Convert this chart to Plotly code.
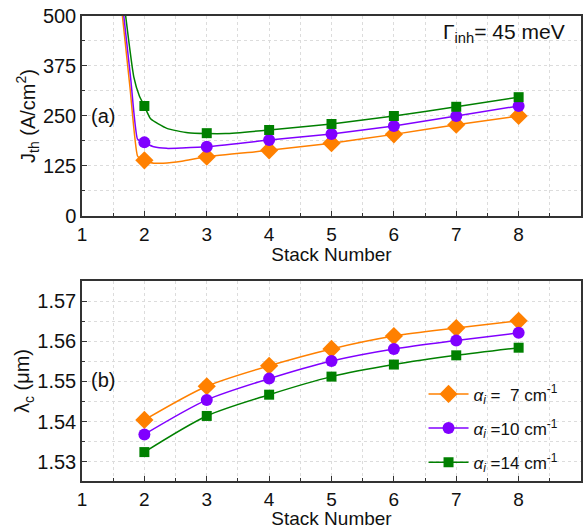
import plotly.graph_objects as go
from plotly.subplots import make_subplots

# ---- data ----
stack = [2, 3, 4, 5, 6, 7, 8]

# panel (a): threshold current density markers (A/cm^2)
jth_7 = [139, 148, 164, 182, 204, 228, 250]
jth_10 = [184, 173, 190, 205, 225, 250, 275]
jth_14 = [275, 207, 215, 230, 250, 273, 297]

# panel (a): model curves
fit7_x = [1.648, 1.77, 1.89, 1.95, 2.0, 2.15, 2.3, 2.6, 3, 4, 5, 6, 7, 8]
fit7_y = [500, 320, 150, 141, 138, 132, 132, 137, 148, 164, 182, 204, 228, 250]
fit10_x = [1.67, 1.78, 1.89, 1.95, 2.0, 2.15, 2.36, 2.6, 3, 4, 5, 6, 7, 8]
fit10_y = [500, 345, 192, 186, 183, 173, 169, 170, 173, 190, 205, 225, 250, 275]
fit14_x = [1.70, 1.83, 1.92, 2.0, 2.1, 2.36, 2.7, 3.0, 3.3, 4, 5, 6, 7, 8]
fit14_y = [500, 348, 300, 275, 243, 219, 208, 206, 206, 215, 230, 250, 273, 297]

# panel (b): lasing wavelength (um)
lam_7 = [1.5404, 1.5488, 1.5539, 1.5581, 1.5613, 1.5633, 1.5651]
lam_10 = [1.5368, 1.5454, 1.5507, 1.5551, 1.5581, 1.5602, 1.5621]
lam_14 = [1.5324, 1.5414, 1.5467, 1.5512, 1.5542, 1.5565, 1.5584]

x_ticks = [1, 2, 3, 4, 5, 6, 7, 8, 9]
jth_ticks = [0, 125, 250, 375, 500]
lam_ticks = [1.53, 1.54, 1.55, 1.56, 1.57]

labels = ["<i>α<sub>i</sub></i> =  7 cm<sup>-1</sup>",
          "<i>α<sub>i</sub></i> =10 cm<sup>-1</sup>",
          "<i>α<sub>i</sub></i> =14 cm<sup>-1</sup>"]
colors = ["#FF8000", "#8000FF", "#008000"]
symbols = ["diamond", "circle", "square"]
msizes = [14, 12, 10]

FONT = "Arial, Liberation Sans, sans-serif"
TXT = "#111111"

fig = make_subplots(rows=2, cols=1, vertical_spacing=0.0)

fits = [(fit7_x, fit7_y), (fit10_x, fit10_y), (fit14_x, fit14_y)]
jths = [jth_7, jth_10, jth_14]
lams = [lam_7, lam_10, lam_14]

for i in range(3):
    fig.add_trace(go.Scatter(x=fits[i][0], y=fits[i][1], mode="lines",
                             line=dict(color=colors[i], width=1.5, shape="spline", smoothing=0.5),
                             showlegend=False, hoverinfo="skip"), row=1, col=1)
    fig.add_trace(go.Scatter(x=stack, y=jths[i], mode="markers",
                             marker=dict(color=colors[i], symbol=symbols[i], size=msizes[i]),
                             showlegend=False), row=1, col=1)

for i in range(3):
    fig.add_trace(go.Scatter(x=stack, y=lams[i], mode="lines+markers", name=labels[i],
                             line=dict(color=colors[i], width=1.5, shape="spline", smoothing=0.8),
                             marker=dict(color=colors[i], symbol=symbols[i], size=msizes[i]),
                             legendgroup=str(i)), row=2, col=1)

axis_common = dict(showline=True, linecolor="#333333", linewidth=1.5, mirror=True,
                   ticks="inside", ticklen=5, tickcolor="#333333", tickwidth=1.2,
                   showgrid=True, gridcolor="#dcdcdc", griddash="dot", gridwidth=1,
                   zeroline=False, automargin=False)

for r in [1, 2]:
    fig.update_xaxes(range=[1, 9], tickvals=x_ticks,
                     tickfont=dict(family=FONT, size=19, color=TXT),
                     minor=dict(dtick=0.5, tick0=1, ticks="inside", ticklen=3, tickcolor="#333333",
                                showgrid=True, gridcolor="#dcdcdc", griddash="dot"),
                     title=dict(text="Stack Number", font=dict(family=FONT, size=19, color=TXT),
                                standoff=1),
                     **axis_common, row=r, col=1)

fig.update_yaxes(range=[0, 500], tickvals=jth_ticks, domain=[0.57, 1.0],
                 tickfont=dict(family=FONT, size=20, color=TXT),
                 minor=dict(dtick=62.5, tick0=0, ticks="inside", ticklen=3, tickcolor="#333333",
                            showgrid=True, gridcolor="#dcdcdc", griddash="dot"),
                 title=dict(text="J<sub>th</sub> (A/cm<sup>2</sup>)",
                            font=dict(family=FONT, size=20, color=TXT), standoff=2),
                 **axis_common, row=1, col=1)
fig.update_yaxes(range=[1.5252, 1.575], tickvals=lam_ticks, tickformat=".2f", domain=[0.0, 0.43],
                 tickfont=dict(family=FONT, size=20, color=TXT),
                 minor=dict(dtick=0.005, tick0=1.525, ticks="inside", ticklen=3, tickcolor="#333333",
                            showgrid=True, gridcolor="#dcdcdc", griddash="dot"),
                 title=dict(text="λ<sub>c</sub> (μm)",
                            font=dict(family=FONT, size=20, color=TXT), standoff=2),
                 **axis_common, row=2, col=1)

fig.add_annotation(x=1.12, y=250, xref="x", yref="y", text="(a)", showarrow=False,
                   xanchor="left", yanchor="middle", font=dict(family=FONT, size=20, color=TXT))
fig.add_annotation(x=1.12, y=1.5503, xref="x2", yref="y2", text="(b)", showarrow=False,
                   xanchor="left", yanchor="middle", font=dict(family=FONT, size=20, color=TXT))
fig.add_annotation(x=8.77, y=457, xref="x", yref="y", text="Γ<sub>inh</sub>= 45 meV", showarrow=False,
                   xanchor="right", yanchor="middle", font=dict(family=FONT, size=21, color=TXT))

fig.update_layout(
    width=586, height=529,
    margin=dict(l=81.5, r=4.5, t=16, b=48),
    plot_bgcolor="white", paper_bgcolor="white",
    font=dict(family=FONT, size=20, color=TXT),
    legend=dict(x=0.965, y=0.225, xanchor="right", yanchor="top",
                bgcolor="rgba(0,0,0,0)", tracegroupgap=9, itemwidth=40,
                font=dict(family=FONT, size=17, color=TXT)),
    showlegend=True,
)

# remove the default 8px page margin so the figure fills the window exactly
fig.write_html("out.html", config={"displayModeBar": False},
               post_script="document.body.style.margin='0';document.body.style.overflow='hidden';")
